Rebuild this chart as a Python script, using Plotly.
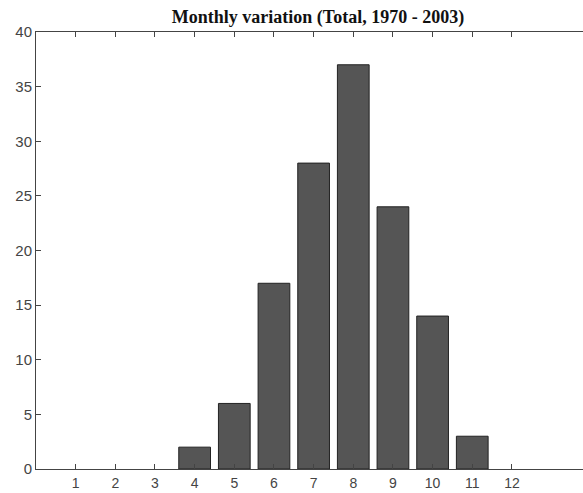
import plotly.graph_objects as go

months = [1, 2, 3, 4, 5, 6, 7, 8, 9, 10, 11, 12]
counts = [0, 0, 0, 2, 6, 17, 28, 37, 24, 14, 3, 0]
y_ticks = [0, 5, 10, 15, 20, 25, 30, 35, 40]
title_text = "Monthly variation (Total, 1970 - 2003)"

fig = go.Figure()
fig.add_trace(go.Bar(
    x=months, y=counts, width=0.8,
    marker=dict(color="#555555",
                line=dict(color="#222222", width=[1 if c > 0 else 0 for c in counts])),
))

axis_font = dict(family="Liberation Sans, Arial, sans-serif", size=15, color="#444444")
x_font = dict(family="Liberation Sans, Arial, sans-serif", size=14, color="#444444")

fig.update_layout(
    width=583, height=493,
    margin=dict(l=36, r=0, t=32, b=24),
    paper_bgcolor="white", plot_bgcolor="white",
    showlegend=False,
    title=dict(
        text="<b>" + title_text + "</b>",
        font=dict(family="Liberation Serif, Times New Roman, serif", size=18, color="#111111"),
        x=318 / 583, xref="container", xanchor="center",
        y=1 - 17 / 493, yref="container", yanchor="middle",
    ),
    xaxis=dict(
        range=[0, 547 / 39.66], tickvals=months, ticktext=[str(m) for m in months],
        ticks="inside", ticklen=5, tickcolor="#444444", ticklabelstandoff=1,
        showline=True, linecolor="#444444", linewidth=1, mirror="ticks",
        showgrid=False, zeroline=False, tickfont=x_font, automargin=False,
    ),
    yaxis=dict(
        range=[0, 40], tickvals=y_ticks,
        ticks="inside", ticklen=5, tickcolor="#444444",
        showline=True, linecolor="#444444", linewidth=1, mirror=False,
        showgrid=False, zeroline=False, tickfont=axis_font, automargin=False,
    ),
    bargap=0.2,
)

fig.write_html("out.html")
